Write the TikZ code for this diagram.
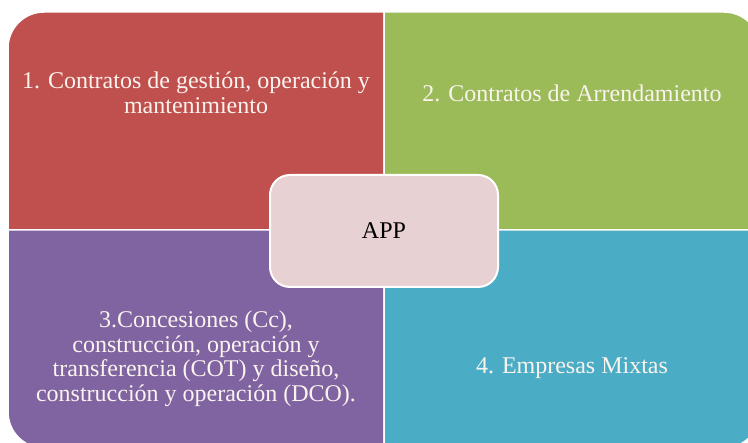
\documentclass[tikz,border=0pt]{standalone}
\usepackage{fontspec}
\setmainfont{Liberation Serif}
\definecolor{appred}{RGB}{192,80,77}
\definecolor{appgreen}{RGB}{155,187,89}
\definecolor{apppurple}{RGB}{128,100,162}
\definecolor{appblue}{RGB}{75,172,198}
\definecolor{apppink}{RGB}{232,209,211}
\definecolor{apptext}{RGB}{250,243,238}

\begin{document}
\begin{tikzpicture}[x=1pt, y=1pt,
    quad/.style = {draw=white, line width=1.5pt},
    quadtext/.style = {text=apptext, align=center, font=\fontsize{24}{24.5}\selectfont},
    hub/.style = {rectangle, rounded corners=20pt, minimum width=228pt, minimum height=112pt, text centered, draw=white, line width=2pt, fill=apppink, font=\fontsize{24}{26}\selectfont}]
        \useasboundingbox (0,0) rectangle (748,443);
        \clip (0,0) rectangle (748,443);

        % Quadrants
        \path [quad, fill=appred] (384,213) -- (8,213) -- (8,395) arc[start angle=180, end angle=90, radius=36] -- (384,431) -- cycle;
        \path [quad, fill=appgreen] (384,213) -- (384,431) -- (724,431) arc[start angle=90, end angle=0, radius=36] -- (760,213) -- cycle;
        \path [quad, fill=apppurple] (384,213) -- (8,213) -- (8,31) arc[start angle=180, end angle=270, radius=36] -- (384,-5) -- cycle;
        \path [quad, fill=appblue] (384,213) -- (760,213) -- (760,31) arc[start angle=0, end angle=-90, radius=36] -- (384,-5) -- cycle;

        % Nodes
        \node (gestion) [quadtext] at (196,350) {1. Contratos de gestión, operación y\\mantenimiento};
        \node (arrend) [quadtext] at (572,350) {2. Contratos de Arrendamiento};
        \node (concesiones) [quadtext] at (196,84) {3.Concesiones (Cc),\\construcción, operación y\\transferencia (COT) y diseño,\\construcción y operación (DCO).};
        \node (mixtas) [quadtext] at (572,75) {4. Empresas Mixtas};
        \node (app) [hub] at (384,212) {APP};
    \end{tikzpicture}
\end{document}
